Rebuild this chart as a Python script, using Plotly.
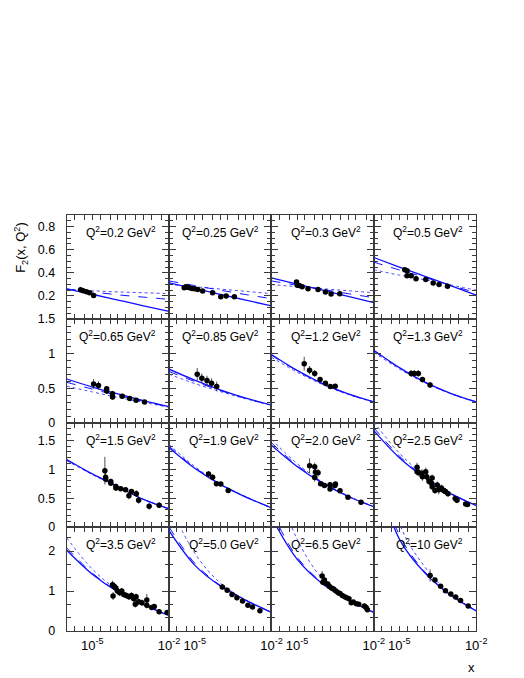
import numpy as np
import plotly.graph_objects as go

# ---------------- data ----------------
Q2_LABELS = ["0.2", "0.25", "0.3", "0.5", "0.65", "0.85", "1.2", "1.3",
             "1.5", "1.9", "2.0", "2.5", "3.5", "5.0", "6.5", "10"]

# data points: log10(x), F2, error
LOGX_1 = [-5.46, -5.36, -5.23, -5.11, -4.95]
F2_1 = [0.254, 0.245, 0.237, 0.228, 0.205]
ERR_1 = [0.01, 0.01, 0.01, 0.01, 0.01]

LOGX_2 = [-5.41, -5.35, -5.29, -5.20, -5.10, -5.00, -4.88, -4.69, -4.30, -3.98, -3.77, -3.45]
F2_2 = [0.271, 0.279, 0.276, 0.271, 0.265, 0.262, 0.256, 0.242, 0.228, 0.194, 0.199, 0.194]
ERR_2 = [0.015, 0.01, 0.01, 0.01, 0.01, 0.01, 0.01, 0.01, 0.01, 0.01, 0.01, 0.01]

LOGX_3 = [-5.02, -4.99, -4.91, -4.80, -4.57, -4.18, -3.89, -3.67, -3.33]
F2_3 = [0.322, 0.293, 0.291, 0.279, 0.262, 0.256, 0.234, 0.217, 0.22]
ERR_3 = [0.012, 0.01, 0.01, 0.01, 0.01, 0.01, 0.01, 0.01, 0.01]

LOGX_4 = [-4.79, -4.70, -4.70, -4.54, -4.35, -3.97, -3.68, -3.45, -3.12]
F2_4 = [0.427, 0.419, 0.376, 0.376, 0.35, 0.342, 0.313, 0.299, 0.285]
ERR_4 = [0.015, 0.015, 0.015, 0.015, 0.012, 0.012, 0.01, 0.01, 0.01]

LOGX_5 = [-4.95, -4.76, -4.44, -4.44, -4.21, -4.21, -3.83, -3.54, -3.29, -2.96]
F2_5 = [0.565, 0.542, 0.494, 0.462, 0.424, 0.377, 0.387, 0.353, 0.33, 0.306]
ERR_5 = [0.07, 0.06, 0.04, 0.04, 0.04, 0.04, 0.02, 0.02, 0.02, 0.02]

LOGX_6 = [-4.90, -4.72, -4.52, -4.34, -4.14]
F2_6 = [0.706, 0.645, 0.613, 0.575, 0.528]
ERR_6 = [0.09, 0.07, 0.07, 0.07, 0.07]

LOGX_7 = [-4.72, -4.51, -4.31, -4.10, -3.89, -3.70, -3.51]
F2_7 = [0.857, 0.763, 0.716, 0.627, 0.575, 0.528, 0.532]
ERR_7 = [0.10, 0.06, 0.05, 0.04, 0.03, 0.03, 0.03]

LOGX_8 = [-4.54, -4.42, -4.26, -4.10, -3.80]
F2_8 = [0.716, 0.716, 0.716, 0.627, 0.551]
ERR_8 = [0.05, 0.05, 0.05, 0.04, 0.04]

LOGX_9 = [-4.51, -4.48, -4.48, -4.28, -4.28, -4.08, -4.08, -3.89, -3.70, -3.57, -3.47, -3.28, -3.19, -2.78, -2.39]
F2_9 = [0.976, 0.863, 0.834, 0.788, 0.761, 0.703, 0.676, 0.664, 0.647, 0.544, 0.618, 0.579, 0.464, 0.362, 0.379]
ERR_9 = [0.24, 0.08, 0.06, 0.05, 0.05, 0.05, 0.05, 0.04, 0.04, 0.06, 0.04, 0.06, 0.06, 0.06, 0.05]

LOGX_10 = [-4.46, -4.30, -4.15, -3.98, -3.69]
F2_10 = [0.92, 0.863, 0.749, 0.744, 0.635]
ERR_10 = [0.05, 0.05, 0.04, 0.04, 0.03]

LOGX_11 = [-4.51, -4.31, -4.28, -4.18, -4.31, -4.08, -3.93, -3.71, -3.71, -3.52, -3.50, -3.32, -3.01, -2.50]
F2_11 = [1.06, 1.045, 0.95, 0.94, 0.857, 0.749, 0.72, 0.659, 0.732, 0.72, 0.744, 0.63, 0.515, 0.43]
ERR_11 = [0.13, 0.07, 0.07, 0.07, 0.07, 0.04, 0.04, 0.04, 0.04, 0.04, 0.04, 0.04, 0.03, 0.03]

LOGX_12 = [-4.31, -4.31, -4.23, -4.12, -4.10, -3.97, -3.93, -3.84, -3.74, -3.72, -3.72,
           -3.61, -3.52, -3.46, -3.36, -3.27, -3.20, -3.10, -2.82, -2.75, -2.41, -2.34]
F2_12 = [1.034, 0.96, 0.94, 0.93, 0.87, 0.96, 0.87, 0.79, 0.76, 0.85, 0.70,
         0.635, 0.73, 0.647, 0.676, 0.635, 0.618, 0.579, 0.493, 0.464, 0.40, 0.39]
ERR_12 = [0.08, 0.07, 0.07, 0.07, 0.07, 0.07, 0.07, 0.06, 0.06, 0.06, 0.06,
          0.06, 0.06, 0.08, 0.06, 0.06, 0.06, 0.05, 0.05, 0.05, 0.04, 0.03]

LOGX_13 = [-4.21, -4.15, -4.08, -4.19, -4.02, -3.93, -3.85, -3.77, -3.67, -3.57, -3.47,
           -3.38, -3.29, -3.32, -3.19, -3.06, -2.87, -2.87, -2.68, -2.58, -2.39, -2.08]
F2_13 = [1.16, 1.12, 1.08, 0.875, 1.0, 0.956, 1.0, 0.915, 0.89, 0.858, 0.89,
         0.81, 0.858, 0.67, 0.735, 0.71, 0.777, 0.645, 0.588, 0.613, 0.483, 0.466]
ERR_13 = [0.10, 0.08, 0.08, 0.10, 0.08, 0.08, 0.08, 0.08, 0.08, 0.08, 0.08,
          0.08, 0.08, 0.08, 0.08, 0.08, 0.15, 0.08, 0.06, 0.06, 0.05, 0.05]

LOGX_14 = [-3.92, -3.73, -3.54, -3.35, -3.13, -2.92, -2.74, -2.45]
F2_14 = [1.10, 1.02, 0.915, 0.833, 0.752, 0.645, 0.605, 0.507]
ERR_14 = [0.07, 0.06, 0.05, 0.06, 0.06, 0.05, 0.05, 0.06]

LOGX_15 = [-4.02, -3.99, -3.93, -3.90, -3.80, -3.74, -3.65, -3.57, -3.48, -3.39, -3.32,
           -3.23, -3.14, -3.06, -2.97, -2.88, -2.80, -2.68, -2.59, -2.37, -2.30, -2.25]
F2_15 = [1.38, 1.22, 1.28, 1.2, 1.18, 1.12, 1.08, 1.05, 1.0, 0.956, 0.94,
         0.89, 0.858, 0.833, 0.81, 0.71, 0.728, 0.686, 0.67, 0.63, 0.588, 0.532]
ERR_15 = [0.12, 0.06, 0.05, 0.05, 0.04, 0.04, 0.04, 0.04, 0.04, 0.04, 0.04,
          0.04, 0.04, 0.04, 0.04, 0.04, 0.04, 0.04, 0.04, 0.04, 0.04, 0.04]

LOGX_16 = [-3.80, -3.61, -3.39, -3.20, -2.99, -2.80, -2.61, -2.31]
F2_16 = [1.39, 1.28, 1.12, 1.01, 0.93, 0.85, 0.767, 0.63]
ERR_16 = [0.15, 0.04, 0.03, 0.03, 0.03, 0.03, 0.03, 0.03]

# model curves read at log10(x) = -6, -5, -4, -3, -2
CURVE_LOGX = [-6, -5, -4, -3, -2]
SOLID = [
    [0.262, 0.215, 0.165, 0.115, 0.066],
    [0.314, 0.264, 0.214, 0.164, 0.114],
    [0.356, 0.303, 0.25, 0.196, 0.143],
    [0.533, 0.45, 0.37, 0.29, 0.208],
    [0.636, 0.52, 0.42, 0.325, 0.236],
    [0.777, 0.62, 0.48, 0.36, 0.26],
    [0.989, 0.76, 0.57, 0.42, 0.306],
    [1.05, 0.80, 0.59, 0.43, 0.306],
    [1.17, 0.92, 0.70, 0.48, 0.317],
    [1.375, 1.02, 0.74, 0.52, 0.334],
    [1.415, 1.05, 0.76, 0.53, 0.352],
    [1.67, 1.20, 0.85, 0.58, 0.374],
    [2.02, 1.42, 0.98, 0.66, 0.385],
    [2.51, 1.65, 1.13, 0.77, 0.466],
    [2.85, 1.80, 1.18, 0.78, 0.466],
    [4.2, 2.3, 1.45, 0.90, 0.507],
]
DASHED = [
    [0.26, 0.235, 0.21, 0.19, 0.171],
    [0.33, 0.29, 0.25, 0.212, 0.177],
    [0.33, 0.293, 0.257, 0.22, 0.185],
    [0.493, 0.425, 0.36, 0.293, 0.228],
    [0.589, 0.49, 0.40, 0.315, 0.232],
    [0.744, 0.60, 0.47, 0.355, 0.258],
    [0.98, 0.755, 0.567, 0.418, 0.305],
    [1.04, 0.795, 0.587, 0.428, 0.306],
    [1.16, 0.915, 0.70, 0.48, 0.317],
    [1.40, 1.03, 0.745, 0.522, 0.334],
    [1.46, 1.07, 0.77, 0.535, 0.353],
    [1.72, 1.23, 0.86, 0.585, 0.375],
    [2.08, 1.45, 0.99, 0.665, 0.387],
    [2.6, 1.70, 1.14, 0.775, 0.467],
    [3.0, 1.85, 1.20, 0.785, 0.467],
    [4.4, 2.4, 1.48, 0.91, 0.508],
]
DOTTED = [
    [0.255, 0.245, 0.235, 0.228, 0.22],
    [0.30, 0.28, 0.26, 0.24, 0.22],
    [0.299, 0.28, 0.263, 0.245, 0.228],
    [0.427, 0.38, 0.34, 0.295, 0.25],
    [0.532, 0.45, 0.37, 0.30, 0.228],
    [0.706, 0.57, 0.455, 0.35, 0.255],
    [0.95, 0.735, 0.555, 0.413, 0.303],
    [1.02, 0.78, 0.58, 0.425, 0.305],
    [1.15, 0.91, 0.695, 0.478, 0.316],
    [1.43, 1.05, 0.75, 0.525, 0.335],
    [1.52, 1.10, 0.78, 0.54, 0.355],
    [1.82, 1.28, 0.88, 0.59, 0.376],
    [2.33, 1.55, 1.02, 0.67, 0.39],
    [3.2, 1.95, 1.20, 0.78, 0.47],
    [4.0, 2.3, 1.30, 0.80, 0.47],
    [6.0, 2.7, 1.60, 0.93, 0.51],
]

ROW_YMAX = [0.9, 1.5, 1.8, 2.6]
ROW_YTICKS = [[0.2, 0.4, 0.6, 0.8], [0, 0.5, 1, 1.5], [0, 0.5, 1, 1.5], [0, 1, 2]]
ROW_YTICKTEXT = [["0.2", "0.4", "0.6", "0.8"], ["0", "0.5", "1", "1.5"],
                 ["0", "0.5", "1", "1.5"], ["0", "1", "2"]]
ROW_YMINOR = [0.05, 0.1, 0.1, 1 / 3]
X_TICKS = [1e-6, 2e-6, 5e-6, 1e-5, 2e-5, 5e-5, 1e-4, 2e-4, 5e-4, 1e-3, 2e-3, 5e-3, 1e-2]
X_TICKTEXT = ["", "", "", "10<sup>-5</sup>", "", "", "", "", "", "", "", "", "10<sup>-2</sup>"]

DATA_LOGX = [LOGX_1, LOGX_2, LOGX_3, LOGX_4, LOGX_5, LOGX_6, LOGX_7, LOGX_8,
             LOGX_9, LOGX_10, LOGX_11, LOGX_12, LOGX_13, LOGX_14, LOGX_15, LOGX_16]
DATA_F2 = [F2_1, F2_2, F2_3, F2_4, F2_5, F2_6, F2_7, F2_8,
           F2_9, F2_10, F2_11, F2_12, F2_13, F2_14, F2_15, F2_16]
DATA_ERR = [ERR_1, ERR_2, ERR_3, ERR_4, ERR_5, ERR_6, ERR_7, ERR_8,
            ERR_9, ERR_10, ERR_11, ERR_12, ERR_13, ERR_14, ERR_15, ERR_16]

# ---------------- layout geometry (pixels) ----------------
W, H = 524, 678
COL_LEFT = 60.0
COL_W = 104.55
ROW_TOP = 204.3
ROW_H = 106.2
FONT = "Liberation Sans, Arial, Helvetica, sans-serif"
LINE_COL = "#3a3a3a"
BLUE = "#1010ff"

fig = go.Figure()
layout = dict(
    width=W, height=H, margin=dict(l=0, r=0, t=0, b=0),
    paper_bgcolor="white", plot_bgcolor="white", showlegend=False,
    font=dict(family=FONT, size=12, color="black"),
)
annotations = []
cx = np.array(CURVE_LOGX, dtype=float)

for i in range(16):
    r, c = divmod(i, 4)
    n = i + 1
    xa = "x" if n == 1 else f"x{n}"
    ya = "y" if n == 1 else f"y{n}"
    x0 = (COL_LEFT + c * COL_W) / W
    x1 = (COL_LEFT + (c + 1) * COL_W) / W
    ytop = ROW_TOP + r * ROW_H
    y1 = 1 - ytop / H
    y0 = 1 - (ytop + ROW_H) / H

    # curves
    for vals, dash, width, col in [(DOTTED[i], "dot", 1.0, "#4a4aff"),
                                   (DASHED[i], "dash", 1.0, BLUE),
                                   (SOLID[i], "solid", 1.3, BLUE)]:
        fig.add_trace(go.Scatter(
            x=10 ** cx, y=vals, mode="lines", xaxis=xa, yaxis=ya,
            line=dict(color=col, width=width, dash=dash, shape="spline", smoothing=1.0),
            hoverinfo="skip"))
    # data
    fig.add_trace(go.Scatter(
        x=10 ** np.array(DATA_LOGX[i]), y=DATA_F2[i], mode="markers",
        xaxis=xa, yaxis=ya,
        marker=dict(color="black", size=5.5),
        error_y=dict(type="data", array=DATA_ERR[i], color="#222", thickness=0.8, width=0)))

    layout["xaxis" + ("" if n == 1 else str(n))] = dict(
        domain=[x0, x1], anchor=ya, type="log", range=[-6, -2],
        showgrid=False, zeroline=False, showline=True, linecolor=LINE_COL, linewidth=1,
        mirror="ticks", ticks="inside", ticklen=5, tickcolor=LINE_COL, tickwidth=1,
        tickvals=X_TICKS, ticktext=X_TICKTEXT, showticklabels=(r == 3),
        tickfont=dict(family=FONT, size=13, color="black"), ticklabelstandoff=2,
    )
    layout["yaxis" + ("" if n == 1 else str(n))] = dict(
        domain=[y0, y1], anchor=xa, range=[0, ROW_YMAX[r]],
        showgrid=False, zeroline=False, showline=True, linecolor=LINE_COL, linewidth=1,
        mirror="ticks", ticks="inside", ticklen=7, tickcolor=LINE_COL, tickwidth=1,
        tickvals=ROW_YTICKS[r], ticktext=ROW_YTICKTEXT[r], showticklabels=(c == 0),
        tickfont=dict(family=FONT, size=12.5, color="black"), ticklabelstandoff=8,
        minor=dict(dtick=ROW_YMINOR[r], tick0=0, ticks="inside", ticklen=4,
                   tickcolor=LINE_COL, showgrid=False),
    )
    # Q2 label
    annotations.append(dict(
        xref="paper", yref="paper",
        x=(COL_LEFT + (c + 1) * COL_W - 11) / W, y=1 - (ytop + 17) / H,
        xanchor="right", yanchor="middle", showarrow=False,
        text=f"Q<sup>2</sup>=" + Q2_LABELS[i] + " GeV<sup>2</sup>",
        font=dict(family=FONT, size=12, color="black")))

annotations.append(dict(
    xref="paper", yref="paper", x=13 / W, y=1 - 237 / H, textangle=-90,
    xanchor="center", yanchor="middle", showarrow=False,
    text="F<sub>2</sub>(x, Q<sup>2</sup>)", font=dict(family=FONT, size=13, color="black")))
annotations.append(dict(
    xref="paper", yref="paper", x=473 / W, y=1 - 666 / H,
    xanchor="center", yanchor="middle", showarrow=False,
    text="x", font=dict(family=FONT, size=13, color="black")))

layout["annotations"] = annotations
fig.update_layout(**layout)
fig.write_html("out.html")
